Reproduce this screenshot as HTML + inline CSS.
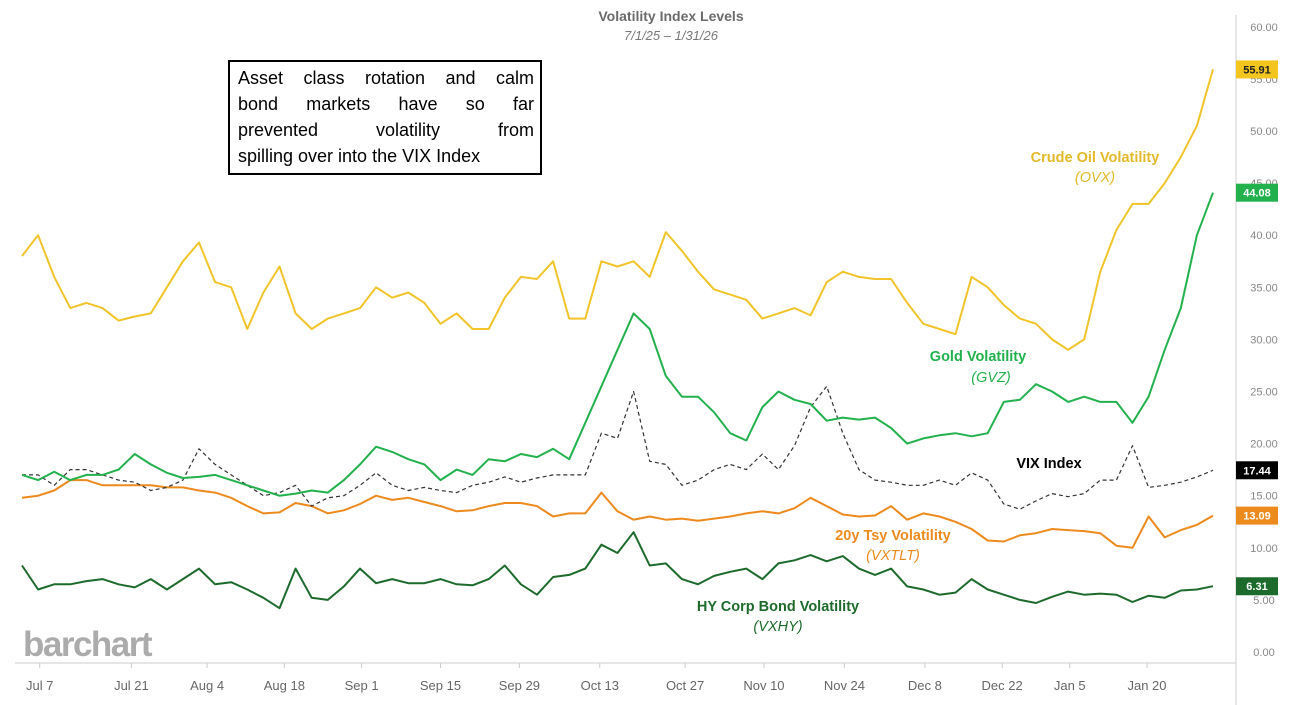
<!DOCTYPE html>
<html><head><meta charset="utf-8">
<style>
html,body{margin:0;padding:0;background:#fff;}
body{width:1290px;height:705px;overflow:hidden;position:relative;font-family:"Liberation Sans",sans-serif;}
#note{position:absolute;left:228px;top:60px;width:296px;height:108px;border:2px solid #000;padding:3px 6px 0 8px;font-size:18px;line-height:26px;color:#000;}
#note div{text-align:justify;text-align-last:justify;white-space:nowrap;}
#note div.last{text-align-last:left;}
</style></head>
<body>
<svg id="chart" width="1290" height="705" style="position:absolute;left:0;top:0;font-family:'Liberation Sans',sans-serif;">
<text x="671" y="21" text-anchor="middle" font-size="14" font-weight="bold" fill="#6b6b6b">Volatility Index Levels</text>
<text x="671" y="40" text-anchor="middle" font-size="13" font-style="italic" fill="#777">7/1/25 – 1/31/26</text>
<text x="23" y="656" font-size="35" font-weight="bold" fill="#ababab" letter-spacing="-1.5">barchart</text>
<line x1="15" y1="663" x2="1236" y2="663" stroke="#ddd" stroke-width="1.5"/>
<line x1="1236" y1="15" x2="1236" y2="705" stroke="#ddd" stroke-width="1.5"/>
<g id="xticks"></g><g id="yticks"></g><g id="series"></g><g id="badges"></g>
<text x="1095" y="162" text-anchor="middle" font-size="14.5" font-weight="bold" fill="#e3b92a">Crude Oil Volatility</text>
<text x="1095" y="182" text-anchor="middle" font-size="14.5" font-style="italic" fill="#e3b92a">(OVX)</text>
<text x="978" y="361" text-anchor="middle" font-size="14.5" font-weight="bold" fill="#22b14c">Gold Volatility</text>
<text x="991" y="382" text-anchor="middle" font-size="14.5" font-style="italic" fill="#22b14c">(GVZ)</text>
<text x="1049" y="468" text-anchor="middle" font-size="14.5" font-weight="bold" fill="#000">VIX Index</text>
<text x="893" y="540" text-anchor="middle" font-size="14.5" font-weight="bold" fill="#ec8a1e">20y Tsy Volatility</text>
<text x="893" y="560" text-anchor="middle" font-size="14.5" font-style="italic" fill="#ec8a1e">(VXTLT)</text>
<text x="778" y="611" text-anchor="middle" font-size="14.5" font-weight="bold" fill="#1d6b2c">HY Corp Bond Volatility</text>
<text x="778" y="631" text-anchor="middle" font-size="14.5" font-style="italic" fill="#1d6b2c">(VXHY)</text>
</svg>
<div id="note">
<div>Asset class rotation and calm</div>
<div>bond markets have so far</div>
<div>prevented volatility from</div>
<div class="last">spilling over into the VIX Index</div>
</div>
<script>
const ovx=[38,40,36,33,33.5,33,31.8,32.2,32.5,35,37.5,39.3,35.5,35,31,34.5,37,32.5,31,32,32.5,33,35,34,34.5,33.5,31.5,32.5,31,31,34,36,35.8,37.5,32,32,37.5,37,37.5,36,40.3,38.5,36.5,34.8,34.3,33.8,32,32.5,33,32.3,35.5,36.5,36,35.8,35.8,33.5,31.5,31,30.5,36,35,33.3,32,31.5,30,29,30,36.5,40.5,43,43,45,47.5,50.5,55.91];
const gvz=[17,16.5,17.3,16.5,17,17,17.5,19,18,17.2,16.7,16.8,17,16.5,16,15.5,15,15.2,15.5,15.3,16.5,18,19.7,19.2,18.5,18,16.5,17.5,17,18.5,18.3,19,18.7,19.5,18.5,22,25.5,29,32.5,31,26.5,24.5,24.5,23,21,20.3,23.5,25,24.2,23.8,22.2,22.5,22.3,22.5,21.5,20,20.5,20.8,21,20.7,21,24,24.2,25.7,25,24,24.5,24,24,22,24.5,29,33,40,44.08];
const vix=[17,17,16,17.5,17.5,17,16.5,16.3,15.5,15.8,16.5,19.5,18,17,16,15,15.3,16,14,14.8,15,16,17.2,16,15.5,15.8,15.5,15.3,16,16.3,16.8,16.3,16.7,17,17,17,21,20.5,25,18.3,18,16,16.5,17.5,18,17.5,19,17.5,19.8,23.5,25.5,21,17.5,16.5,16.3,16,16,16.5,16,17.2,16.5,14.2,13.7,14.5,15.2,14.9,15.2,16.5,16.5,19.8,15.8,16,16.3,16.8,17.44];
const vxtlt=[14.8,15,15.5,16.5,16.5,16,16,16,16,15.8,15.8,15.5,15.3,14.8,14,13.3,13.4,14.3,14,13.3,13.6,14.2,15,14.6,14.8,14.4,14,13.5,13.6,14,14.3,14.3,14,13,13.3,13.3,15.3,13.5,12.7,13,12.7,12.8,12.6,12.8,13,13.3,13.5,13.3,13.8,14.8,14,13.2,13,13.1,14,12.7,13.3,13,12.5,11.8,10.7,10.6,11.2,11.4,11.8,11.7,11.6,11.4,10.2,10,13,11,11.7,12.2,13.09];
const vxhy=[8.3,6,6.5,6.5,6.8,7,6.5,6.2,7,6,7,8,6.5,6.7,6,5.2,4.2,8,5.2,5,6.3,8,6.6,7,6.6,6.6,7,6.5,6.4,7,8.3,6.5,5.5,7.2,7.4,8,10.3,9.5,11.5,8.3,8.5,7,6.5,7.3,7.7,8,7,8.5,8.8,9.3,8.7,9.2,8,7.4,8,6.3,6,5.5,5.7,7,6,5.5,5,4.7,5.3,5.8,5.5,5.6,5.5,4.8,5.4,5.2,5.9,6,6.31];
const xTickLabels=["Jul 7","Jul 21","Aug 4","Aug 18","Sep 1","Sep 15","Sep 29","Oct 13","Oct 27","Nov 10","Nov 24","Dec 8","Dec 22","Jan 5","Jan 20"];
const xTickIdx=[1.1,6.8,11.5,16.3,21.1,26,30.9,35.9,41.2,46.1,51.1,56.1,60.9,65.1,69.9];
const yTickVals=[0,5,10,15,20,25,30,35,40,45,50,55,60];

const NS="http://www.w3.org/2000/svg";
const N=ovx.length;
function xs(i){return 22+i*(1191/(N-1));}
function ys(v){return 652-v*10.42;}
function mk(tag,attrs,parent){const e=document.createElementNS(NS,tag);for(const k in attrs)e.setAttribute(k,attrs[k]);parent.appendChild(e);return e;}

const xg=document.getElementById('xticks');
xTickLabels.forEach((lab,i)=>{
  const x=xs(xTickIdx[i]);
  const t=mk('line',{x1:x,y1:663,x2:x,y2:668,stroke:'#ccc'},xg);
  
  
  const tx=mk('text',{x:x,y:690,'text-anchor':'middle','font-size':13,fill:'#666'},xg);
  tx.textContent=lab;
  
  
});
const yg=document.getElementById('yticks');
yTickVals.forEach(v=>{
  const tx=mk('text',{x:1264,y:ys(v)+4,'text-anchor':'middle','font-size':11,fill:'#888'},yg);
  tx.textContent=v.toFixed(2);
  
  
});
const sg=document.getElementById('series');
function line(data,color,name,dash,w){
  const d=data.map((v,i)=>(i?'L':'M')+xs(i).toFixed(1)+','+ys(v).toFixed(1)).join('');
  const p=mk('path',{d:d,fill:'none',stroke:color,'stroke-width':w,'stroke-linejoin':'round'},sg);
  if(dash)p.setAttribute('stroke-dasharray',dash);
  
  
}
line(vxtlt,'#ec8a1e','vxtlt-line',null,2);
line(vxhy,'#1d6b2c','vxhy-line',null,2);
line(vix,'#333','vix-line','4,3',1.2);
line(gvz,'#22b14c','gvz-line',null,2);
line(ovx,'#f0c42a','ovx-line',null,2);
const bg=document.getElementById('badges');
function badge(v,bgc,fg,name){
  const y=ys(v);
  const r=mk('rect',{x:1236,y:y-9,width:42,height:18,fill:bgc},bg);
  
  
  const t=mk('text',{x:1257,y:y+4,'text-anchor':'middle','font-size':11,'font-weight':'bold',fill:fg},bg);
  t.textContent=v.toFixed(2);
  
  
}
badge(ovx[N-1],'#f2c51f','#222','ovx-badge');
badge(gvz[N-1],'#22b14c','#fff','gvz-badge');
badge(vix[N-1],'#000','#fff','vix-badge');
badge(vxtlt[N-1],'#ec8a1e','#fff','vxtlt-badge');
badge(vxhy[N-1],'#1d6b2c','#fff','vxhy-badge');
</script>
</body></html>
